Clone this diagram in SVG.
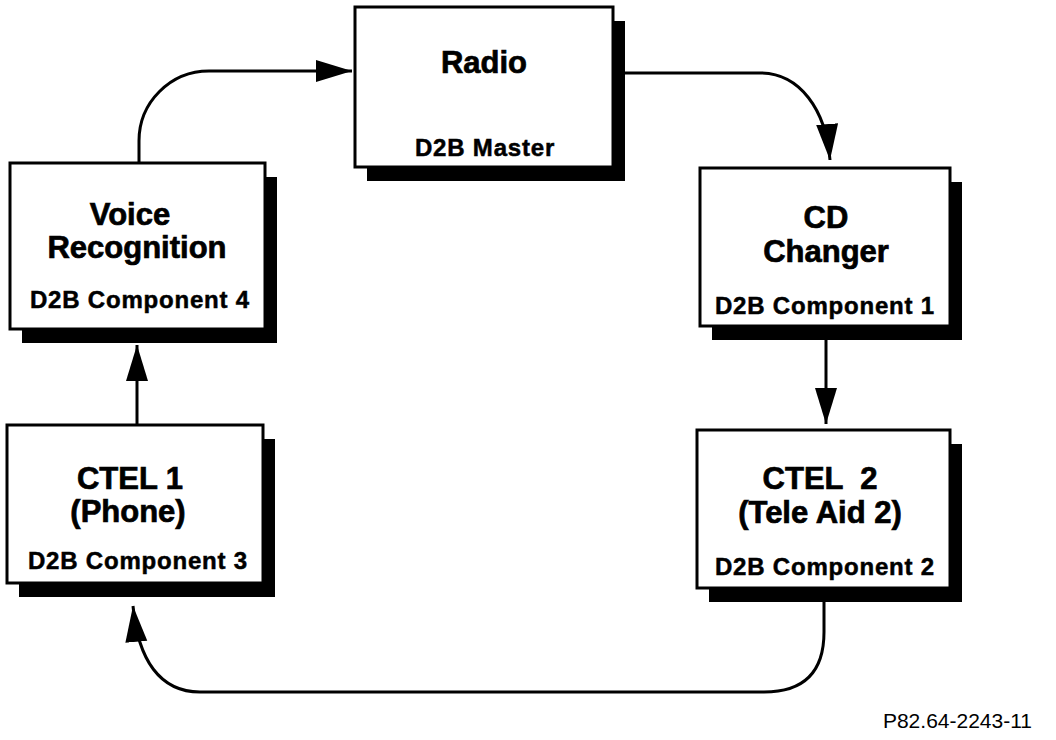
<svg xmlns="http://www.w3.org/2000/svg" width="1056" height="740" viewBox="0 0 1056 740">
<defs>
<style>
.box{fill:#fff;stroke:#000;stroke-width:3}
.shadow{fill:#000}
.t{font-family:"Liberation Sans",Arial,sans-serif;font-weight:bold;font-size:31px;text-anchor:middle;fill:#000;stroke:#000;stroke-width:0.7}
.s{font-family:"Liberation Sans",Arial,sans-serif;font-weight:bold;font-size:24px;letter-spacing:0.8px;text-anchor:middle;fill:#000;stroke:#000;stroke-width:0.5}
.c{fill:none;stroke:#000;stroke-width:3}
.f{font-family:"Liberation Sans",Arial,sans-serif;font-size:21px;text-anchor:end;fill:#000}
</style>
<marker id="ah" markerUnits="userSpaceOnUse" markerWidth="38" markerHeight="24" refX="36" refY="11" orient="auto" viewBox="0 0 38 24">
<path d="M0,0 L36,11 L0,22 z" fill="#000"/>
</marker>
</defs>
<rect width="1056" height="740" fill="#fff"/>
<g id="connectors">
<path class="c" d="M139,163 V141 A70,70 0 0 1 209,71 H352" marker-end="url(#ah)"/>
<path class="c" d="M623,73 H760 C800,73 826,110 830,160" marker-end="url(#ah)"/>
<path class="c" d="M826,340 V424" marker-end="url(#ah)"/>
<path class="c" d="M824,602 V632 Q824,692 764,692 H200 C160,692 138,660 133,606" marker-end="url(#ah)"/>
<path class="c" d="M137,425 V345" marker-end="url(#ah)"/>
</g>
<g id="radio">
<rect class="shadow" x="367" y="21" width="258" height="160"/>
<rect class="box" x="355" y="7" width="258" height="160"/>
<text class="t" x="484" y="73">Radio</text>
<text class="s" x="485" y="156">D2B Master</text>
</g>
<g id="cd-changer">
<rect class="shadow" x="712" y="182" width="250" height="158"/>
<rect class="box" x="700" y="168" width="250" height="158"/>
<text class="t" x="826" y="228">CD</text>
<text class="t" x="826" y="262">Changer</text>
<text class="s" x="825" y="314">D2B Component 1</text>
</g>
<g id="ctel2">
<rect class="shadow" x="709" y="444" width="253" height="158"/>
<rect class="box" x="697" y="430" width="253" height="158"/>
<text class="t" x="820" y="489" xml:space="preserve">CTEL  2</text>
<text class="t" x="820" y="523">(Tele Aid 2)</text>
<text class="s" x="825" y="575">D2B Component 2</text>
</g>
<g id="ctel1">
<rect class="shadow" x="19" y="439" width="256" height="158"/>
<rect class="box" x="7" y="425" width="256" height="158"/>
<text class="t" x="130" y="489">CTEL 1</text>
<text class="t" x="128" y="522">(Phone)</text>
<text class="s" x="138" y="569">D2B Component 3</text>
</g>
<g id="voice">
<rect class="shadow" x="22" y="177" width="255" height="166"/>
<rect class="box" x="10" y="163" width="255" height="166"/>
<text class="t" x="130" y="225">Voice</text>
<text class="t" x="137" y="258">Recognition</text>
<text class="s" x="140" y="308">D2B Component 4</text>
</g>
<text class="f" x="1032" y="728">P82.64-2243-11</text>
</svg>
